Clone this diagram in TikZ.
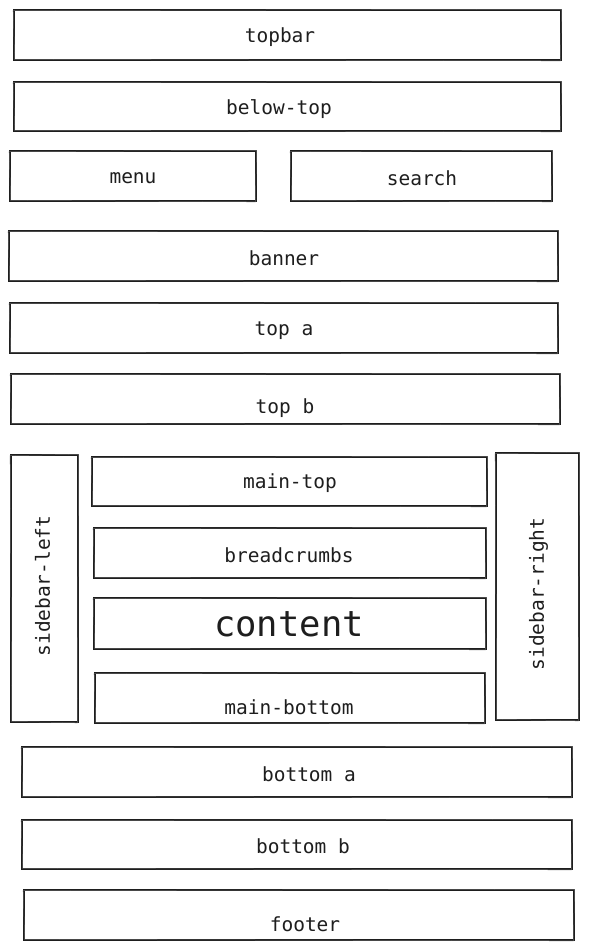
\documentclass[tikz,border=0pt]{standalone}
\usepackage{fontspec}
\newfontfamily\wfmono{DejaVu Sans Mono}
\definecolor{ink}{HTML}{1E1E1E}
\tikzset{
  wbox/.style={draw=ink, line width=1.1pt, rectangle, inner sep=0pt, fill=white},
  wsketch/.style={draw=ink!70, line width=0.5pt},
  wlbl/.style={text=ink, inner sep=0pt, yshift=-1.5pt, font=\wfmono\fontsize{19.5}{21}\selectfont},
  wbig/.style={text=ink, inner sep=0pt, yshift=-1pt, font=\wfmono\fontsize{35.5}{38}\selectfont},
}
% name, x1, y1, x2, y2
\newcommand\wfbox[5]{%
  \node[wbox, minimum width={(#4-#2)*1pt}, minimum height={(#5-#3)*1pt}]
    (#1) at ({(#2+#4)/2},{(#3+#5)/2}) {};
  \draw[wsketch] (#2-0.8,#3+0.6) -- (#4+0.5,#3-0.7) -- (#4-0.6,#5+0.8) -- (#2+0.7,#5-0.6) -- cycle;
}
\begin{document}
\begin{tikzpicture}[x=1pt,y=-1pt]
\useasboundingbox[fill=white] (0,0) rectangle (589,950);

\wfbox{topbar}{14}{10}{561}{60}
\node[wlbl] (topbar-t) at (280,36) {topbar};

\wfbox{belowtop}{14}{82}{561}{131}
\node[wlbl] (belowtop-t) at (279,108) {below-top};

\wfbox{menu}{10}{151}{256}{201}
\node[wlbl] (menu-t) at (133,177) {menu};

\wfbox{search}{291}{151}{552}{201}
\node[wlbl] (search-t) at (422,177) {search};

\wfbox{banner}{9}{231}{558}{281}
\node[wlbl] (banner-t) at (284,257) {banner};

\wfbox{topa}{10}{303}{558}{353}
\node[wlbl] (topa-t) at (284,329) {top a};

\wfbox{topb}{11}{374}{560}{424}
\node[wlbl] (topb-t) at (285,407) {top b};

\wfbox{sidebarleft}{11}{455}{78}{722}
\node[wlbl, rotate=90, yshift=1.5pt, xshift=-1.5pt] (sidebarleft-t) at (44,583) {sidebar-left};

\wfbox{maintop}{92}{457}{487}{506}
\node[wlbl] (maintop-t) at (290,482) {main-top};

\wfbox{breadcrumbs}{94}{528}{486}{578}
\node[wlbl] (breadcrumbs-t) at (289,554) {breadcrumbs};

\wfbox{content}{94}{598}{486}{649}
\node[wbig] (content-t) at (289,623) {content};

\wfbox{mainbottom}{95}{673}{485}{723}
\node[wlbl] (mainbottom-t) at (289,706) {main-bottom};

\wfbox{sidebarright}{496}{453}{579}{720}
\node[wlbl, rotate=90, yshift=1.5pt, xshift=-1.5pt] (sidebarright-t) at (540,591) {sidebar-right};

\wfbox{bottoma}{22}{747}{572}{797}
\node[wlbl] (bottoma-t) at (309,773) {bottom a};

\wfbox{bottomb}{22}{820}{572}{869}
\node[wlbl] (bottomb-t) at (303,845) {bottom b};

\wfbox{footer}{24}{890}{574}{940}
\node[wlbl] (footer-t) at (305,923) {footer};
\end{tikzpicture}
\end{document}
